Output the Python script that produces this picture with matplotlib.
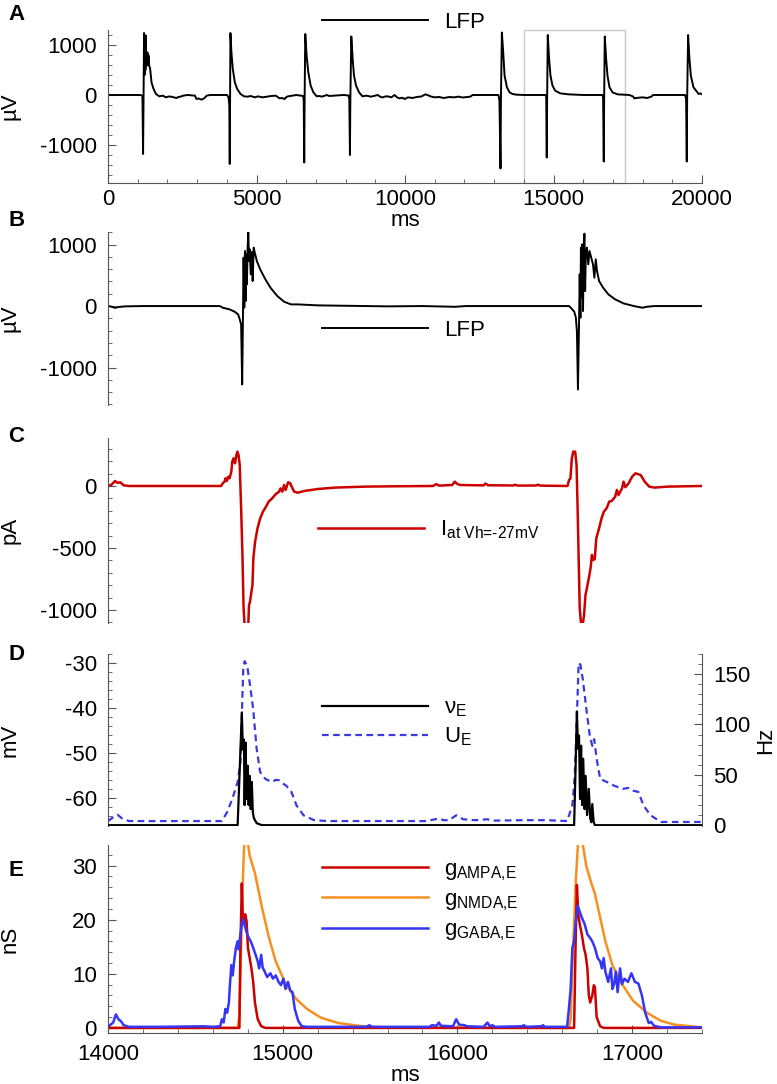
import matplotlib
matplotlib.use("Agg")
import matplotlib.pyplot as plt
from matplotlib.ticker import MultipleLocator

FONT = "Liberation Sans"
plt.rcParams['font.family'] = [FONT, 'DejaVu Sans']
plt.rcParams['axes.unicode_minus'] = False
plt.rcParams['mathtext.fontset'] = 'custom'
plt.rcParams['mathtext.rm'] = FONT
plt.rcParams['mathtext.it'] = FONT
plt.rcParams['mathtext.bf'] = FONT + ':bold'

# ---------------- data ----------------
# Panel A: LFP over 20 s
lfp_long_t = [0, 1100, 1160, 1181, 1195, 1215, 1232, 1249, 1260, 1272, 1290, 1306, 1318, 1329, 1345, 1363, 1386, 1420,
              1466, 1534, 1614, 1728, 1842, 1956, 2040, 2127, 2200, 2298, 2380, 2469, 2550, 2697, 2925, 2982, 3050,
              3153, 3250, 3324, 3438, 4008, 4060, 4085, 4099, 4110, 4122, 4156, 4202, 4270, 4350, 4464, 4580, 4700,
              4800, 4950, 5050, 5200, 5350, 5500, 5650, 5775, 5860, 5946, 6010, 6060, 6345, 6573, 6590, 6607, 6620,
              6642, 6687, 6744, 6824, 6915, 7029, 7120, 7200, 7300, 7371, 7450, 7599, 7800, 7941, 8100, 8125, 8146,
              8160, 8192, 8238, 8283, 8352, 8454, 8568, 8700, 8853, 8950, 9081, 9180, 9252, 9330, 9423, 9540, 9651,
              9740, 9822, 9910, 9993, 10100, 10250, 10400, 10550, 10683, 10800, 10854, 11000, 11150, 11300, 11500,
              11650, 11800, 11950, 12100, 12200, 12274, 13148, 13180, 13216, 13230, 13262, 13307, 13353, 13432,
              13523, 13620, 13750, 14000, 14739, 14755, 14773, 14785, 14807, 14852, 14898, 14966, 15057, 15227,
              15511, 16000, 16647, 16670, 16693, 16705, 16727, 16772, 16818, 16886, 16988, 17158, 17556, 17670,
              17726, 17850, 18010, 18150, 18294, 18351, 19430, 19465, 19487, 19500, 19532, 19578, 19624, 19714,
              19828, 19885, 19940, 20000]
lfp_long_v = [0, 0, -20, -1180, -200, 1240, 400, 990, 500, 1190, 600, 590, 800, 850, 600, 790, 590, 520,
              250, 120, 20, -27, -13, -47, -30, -33, -45, -60, -40, -27, -10, 0, -13, -80, -70,
              -93, -60, -13, 0, 0, -47, -213, -1380, -100, 1240, 850, 520, 253, 120, 20, -27, -33,
              -20, -47, -27, -47, -33, -20, -13, -67, -60, -80, -40, -27, 0, -20, -113, -1350, -100,
              1220, 790, 453, 187, 53, -27, -20, -33, -15, 0, -20, -13, -5, 0, -10, -80, -1200,
              -80, 1170, 720, 387, 187, 53, -27, -13, -33, -20, 0, -40, -47, -30, -27, -47, 0,
              -50, -67, -55, -80, -47, -60, -40, -30, 13, -10, -27, -47, -40, -60, -40,
              -47, -33, -50, -40, -33, 0, 0, -113, -1470, -100, 1250, 850, 387, 153,
              53, 20, 7, 0, 0, -50, -1250, -100, 1200, 720, 387, 187, 87, 33,
              13, 0, 0, -50, -1330, -80, 1170, 720, 387, 153, 53, 13, 0, -27,
              -67, -55, -47, -60, -33, 0, 0, -80, -1330, -80, 1200, 720, 387, 153,
              67, 20, 33, 13]

# Panel B: LFP zoom 14000-17400 ms
lfp_t = [14000, 14020, 14040, 14060, 14100, 14200, 14640, 14657, 14696, 14725, 14745, 14754, 14762, 14768, 14772,
         14776, 14780, 14784, 14788, 14791, 14795, 14799, 14803, 14807, 14811, 14817, 14823, 14828, 14834, 14840,
         14852, 14871, 14901, 14930, 14969, 15008, 15047, 15086, 15203, 15476, 15600, 15800, 15985, 16050, 16503,
         16639, 16649, 16669, 16678, 16684, 16690, 16696, 16700, 16704, 16707, 16711, 16715, 16719, 16723, 16727,
         16731, 16735, 16741, 16749, 16756, 16766, 16776, 16784, 16792, 16799, 16811, 16834, 16864, 16903, 16951,
         17010, 17059, 17088, 17127, 17400]
lfp_v = [0, -10, -30, -15, -5, 0, 0, -27, -54, -92, -136, -217, -299, -1276, -299,
         787, -27, 896, 81, 842, 353, 923, 1211, 733, 923, 516, 880, 407, 950, 869,
         733, 597, 434, 299, 163, 71, 27, 27, 11, 0, -5, 0, -12, 0, 0,
         0, -27, -92, -190, -407, -1358, -299, 516, -190, 950, 136, 1005, -81, 896, 1178,
         244, 842, 950, 679, 896, 787, 679, 461, 760, 570, 407, 299, 190, 109, 43,
         0, -27, -10, 0, 0]

# Panel C: current at Vh=-27 mV
cur_t = [14000, 14020, 14040, 14055, 14070, 14090, 14120, 14647, 14657, 14667, 14672, 14680, 14688, 14696, 14706,
         14711, 14719, 14727, 14735, 14741, 14747, 14754, 14762, 14770, 14776, 14782, 14803, 14807, 14813, 14821,
         14827, 14832, 14842, 14856, 14871, 14887, 14901, 14920, 14940, 14959, 14979, 14988, 14998, 15008, 15017,
         15031, 15043, 15051, 15066, 15086, 15125, 15203, 15300, 15476, 15600, 15860, 15880, 15895, 15970, 15985,
         16000, 16020, 16150, 16160, 16175, 16320, 16330, 16345, 16450, 16460, 16475, 16630, 16639, 16647, 16655,
         16663, 16674, 16682, 16688, 16694, 16700, 16707, 16717, 16725, 16733, 16741, 16752, 16762, 16770, 16776,
         16786, 16795, 16811, 16825, 16838, 16854, 16869, 16883, 16903, 16913, 16922, 16942, 16951, 16961, 16980,
         17000, 17019, 17049, 17072, 17098, 17127, 17205, 17400]
cur_v = [0, 10, 40, 25, 30, 5, 0, 0, 22, 35, 62, 40, 75, 62, 116,
         196, 223, 183, 250, 277, 250, 169, -180, -583, -987, -1120, -1120, -960, -933, -852,
         -798, -583, -449, -341, -261, -207, -175, -126, -99, -67, -46, -19, -46, 8, -32,
         30, 22, -5, -46, -54, -40, -24, -13, -5, -3, 0, 15, 3, 8, 35,
         15, 8, 5, 20, 6, 4, 10, 3, 4, 10, 3, 0, 48, 62, 223,
         277, 277, 169, -180, -583, -987, -1100, -1120, -1040, -879, -825, -745, -664, -556, -597,
         -590, -422, -341, -261, -207, -180, -126, -121, -86, -32, -73, -19, 35, -10, 22,
         75, 102, 89, 35, -5, -13, -5, 0]

# Panel D: mean potential U_E (mV) and rate nu_E (Hz)
ue_t = [14000, 14035, 14055, 14080, 14120, 14400, 14652, 14682, 14712, 14742, 14758, 14766, 14774, 14782, 14797,
        14811, 14831, 14851, 14871, 14901, 14940, 14960, 14980, 15000, 15020, 15050, 15079, 15119, 15179, 15258,
        15814, 15860, 15894, 15920, 15953, 15993, 16033, 16100, 16172, 16200, 16390, 16509, 16628, 16658, 16672,
        16684, 16694, 16704, 16718, 16738, 16758, 16772, 16783, 16797, 16817, 16857, 16897, 16946, 16980, 17006,
        17036, 17065, 17105, 17165, 17400]
ue_v = [-65.2, -64.2, -63.8, -64.6, -65.2, -65.2, -65.2, -63.2, -60.2, -56.5, -52.1, -41.7, -31.4, -29.5, -30.6,
        -34.3, -40.2, -49.1, -54.3, -55.8, -56.5, -56.0, -56.1, -56.8, -57.3, -58.7, -61.7, -63.9, -65.0, -65.2,
        -65.2, -64.9, -64.6, -65.0, -65.0, -63.9, -64.8, -65.0, -64.8, -65.1, -65.0, -65.0, -65.2, -61.7, -55.0,
        -41.7, -29.9, -30.3, -33.6, -40.2, -46.2, -48.4, -46.9, -51.3, -55.8, -56.5, -57.3, -58.0, -57.8, -58.4,
        -58.7, -61.7, -63.9, -65.4, -65.4]
nu_t = [14000, 14742, 14755, 14766, 14772, 14778, 14782, 14788, 14793, 14800, 14805, 14811, 14817, 14823, 14829,
        14835, 14851, 14881, 16668, 16676, 16684, 16690, 16696, 16702, 16708, 16714, 16720, 16728, 16734, 16742,
        16752, 16760, 16766, 16772, 16780, 16787, 17400]
nu_v = [0, 0, 60, 112, 75, 85, 20, 82, 26, 59, 20, 49, 16, 43, 13,
        7, 2, 0, 0, 55, 113, 76, 89, 26, 79, 20, 66, 16, 49, 10,
        36, 7, 3, 21, 3, 0, 0]

# Panel E: conductances (nS)
ampa_t = [14000, 14752, 14758, 14766, 14772, 14778, 14785, 14793, 14801, 14811, 14821, 14831, 14841, 14857, 14877,
          14901, 16668, 16676, 16684, 16692, 16700, 16712, 16724, 16734, 16744, 16752, 16760, 16772, 16781, 16787,
          16797, 16817, 16837, 17400]
ampa_v = [0, 0, 14.8, 26.7, 19.8, 19.2, 21.0, 19.8, 14.8, 12.9, 11.0, 8.5, 4.7, 1.6, 0.3,
          0, 0, 14.8, 26.4, 21.0, 19.2, 17.3, 14.8, 13.5, 11.0, 6.0, 4.7, 6.0, 7.9, 7.5,
          2.0, 0.3, 0, 0]
nmda_t = [14000, 14742, 14752, 14762, 14772, 14781, 14797, 14811, 14841, 14881, 14921, 14960, 15020, 15079, 15139,
          15218, 15318, 15457, 15616, 16638, 16648, 16662, 16678, 16692, 16712, 16738, 16767, 16787, 16817, 16847,
          16887, 16946, 17006, 17085, 17165, 17244, 17400]
nmda_v = [0, 0, 2.2, 14.8, 27.4, 35, 35, 31.8, 28.6, 22.3, 16.7, 12.3, 7.9, 5.3, 3.5,
          1.9, 0.9, 0.3, 0.05, 0, 1.6, 14.8, 27.4, 35, 35, 29.9, 26.7, 24.8, 20.4, 16.0,
          11.6, 7.9, 5.0, 2.8, 1.3, 0.6, 0.1]
gaba_t = [14000, 14030, 14045, 14060, 14075, 14090, 14120, 14300, 14550, 14600, 14642, 14652, 14662, 14672, 14682,
          14692, 14698, 14706, 14714, 14722, 14732, 14742, 14748, 14758, 14766, 14774, 14781, 14791, 14805, 14817,
          14831, 14845, 14857, 14865, 14877, 14885, 14897, 14911, 14930, 14944, 14960, 14976, 14990, 15004, 15016,
          15030, 15044, 15056, 15069, 15089, 15109, 15139, 15480, 15496, 15510, 15840, 15854, 15880, 15894, 15905,
          15975, 15993, 16010, 16040, 16055, 16150, 16172, 16185, 16200, 16215, 16370, 16380, 16395, 16480, 16490,
          16500, 16628, 16638, 16648, 16658, 16668, 16678, 16688, 16698, 16712, 16728, 16744, 16758, 16772, 16787,
          16803, 16817, 16827, 16837, 16847, 16863, 16879, 16887, 16897, 16907, 16917, 16931, 16942, 16956, 16976,
          16996, 17016, 17036, 17056, 17075, 17095, 17109, 17125, 17165, 17400]
gaba_v = [0.2, 1.0, 2.5, 1.6, 1.2, 0.5, 0.2, 0.2, 0.3, 0.2, 0.3, 1.6, 1.0, 3.5, 2.8,
          4.7, 8.0, 11.6, 9.7, 12.3, 14.8, 16.0, 14.5, 17.3, 19.2, 20.1, 19.2, 17.9, 16.7, 16.0,
          14.8, 13.5, 12.3, 11.0, 13.5, 11.2, 10.4, 9.4, 10.1, 9.1, 9.7, 8.5, 7.9, 9.1, 7.2,
          8.5, 6.9, 6.6, 3.5, 1.3, 0.3, 0.2, 0.2, 0.5, 0.2, 0.2, 0.5, 0.4, 1.0, 0.4,
          0.3, 1.6, 0.6, 0.5, 0.3, 0.2, 1.0, 0.3, 0.5, 0.2, 0.3, 0.5, 0.2, 0.3, 0.5,
          0.2, 0.2, 3.5, 7.2, 14.8, 16.0, 19.8, 22.6, 21.7, 20.4, 19.2, 17.3, 16.7, 16.0, 14.8,
          12.9, 12.3, 11.0, 12.9, 10.4, 8.5, 11.0, 7.2, 8.1, 10.4, 6.6, 11.0, 8.1, 9.1, 8.5,
          10.1, 8.5, 8.2, 6.0, 2.8, 0.9, 1.1, 0.4, 0.1, 0.1]

# ---------------- styling ----------------
W, H = 777, 1084
fig = plt.figure(figsize=(W / 100, H / 100), dpi=100)
SPC = '#555555'
FS = 16
L, R = 108, 702


def make_ax(top, bottom):
    return fig.add_axes([L / W, 1 - bottom / H, (R - L) / W, (bottom - top) / H])


def style(ax, bottom=False, xpad=6):
    for s in ['top', 'right', 'bottom', 'left']:
        ax.spines[s].set_visible(False)
    ax.spines['left'].set_visible(True)
    ax.spines['left'].set_color(SPC)
    ax.tick_params(axis='y', which='both', direction='in', color=SPC, labelsize=FS, pad=8)
    ax.tick_params(axis='y', which='major', length=6)
    ax.tick_params(axis='y', which='minor', length=3)
    if bottom:
        ax.spines['bottom'].set_visible(True)
        ax.spines['bottom'].set_color(SPC)
        ax.tick_params(axis='x', which='both', direction='in', color=SPC, labelsize=FS, pad=xpad)
        ax.tick_params(axis='x', which='major', length=6)
        ax.tick_params(axis='x', which='minor', length=3)
    else:
        ax.tick_params(axis='x', which='both', bottom=False, labelbottom=False)


def leg(ax, handles, labels, x, y, spacing=0.25):
    return ax.legend(handles, labels, loc='center left', bbox_to_anchor=(x, y), frameon=False,
                     fontsize=FS, handlelength=4.75, handletextpad=0.75, borderpad=0, borderaxespad=0,
                     labelspacing=spacing)


def ylab(ax, text, x=-0.148):
    ax.set_ylabel(text, fontsize=FS)
    ax.yaxis.set_label_coords(x, 0.5)


def sub(base, s):
    return base + r'$_{\text{' + s + '}}$'


# ---- A ----
axA = make_ax(30, 183)
style(axA, bottom=True, xpad=4)
lA, = axA.plot(lfp_long_t, lfp_long_v, color='black', lw=1.4)
axA.set_xlim(0, 20000)
axA.set_ylim(-1760, 1300)
axA.set_xticks([0, 5000, 10000, 15000, 20000])
axA.xaxis.set_minor_locator(MultipleLocator(1000))
axA.set_yticks([-1000, 0, 1000])
axA.yaxis.set_minor_locator(MultipleLocator(200))
axA.add_patch(plt.Rectangle((14000, -1760), 3400, 3060, fill=False, ec='#c8c8c8', lw=1.0, clip_on=False))
axA.set_xlabel('ms', fontsize=FS, labelpad=0)
ylab(axA, 'µV')
leg(axA, [lA], ['LFP'], (322 - L) / (R - L), (183 - 22) / 153)

# ---- B ----
axB = make_ax(232, 405)
style(axB)
lB, = axB.plot(lfp_t, lfp_v, color='black', lw=1.4)
axB.set_xlim(14000, 17400)
axB.set_ylim(-1610, 1205)
axB.set_yticks([-1000, 0, 1000])
axB.yaxis.set_minor_locator(MultipleLocator(200))
ylab(axB, 'µV')
leg(axB, [lB], ['LFP'], (322 - L) / (R - L), (405 - 330) / 173)

# ---- C ----
axC = make_ax(438, 623)
style(axC)
lC, = axC.plot(cur_t, cur_v, color='#cc0000', lw=1.8)
axC.set_xlim(14000, 17400)
axC.set_ylim(-1105, 387)
axC.set_yticks([-1000, -500, 0])
axC.yaxis.set_minor_locator(MultipleLocator(100))
ylab(axC, 'pA')
leg(axC, [lC], [sub('I', 'at Vh=-27mV')], (318 - L) / (R - L), (623 - 530) / 185)

# ---- D ----
axD = make_ax(654, 826)
style(axD)
axD2 = axD.twinx()
for s in ['top', 'left', 'bottom']:
    axD2.spines[s].set_visible(False)
axD2.spines['right'].set_color(SPC)
axD2.tick_params(axis='y', which='both', direction='in', color=SPC, labelsize=FS, pad=8)
axD2.tick_params(axis='y', which='major', length=6)
axD2.tick_params(axis='y', which='minor', length=3)
lU, = axD.plot(ue_t, ue_v, color='#3a3ae0', lw=1.6, ls=(0, (3, 2)))
lN, = axD2.plot(nu_t, nu_v, color='black', lw=1.6)
axD.set_xlim(14000, 17400)
axD.set_ylim(-66.3, -27.9)
axD2.set_ylim(-0.8, 170)
axD.set_yticks([-60, -50, -40, -30])
axD.yaxis.set_minor_locator(MultipleLocator(2))
axD2.set_yticks([0, 50, 100, 150])
axD2.yaxis.set_minor_locator(MultipleLocator(10))
ylab(axD, 'mV')
axD2.set_ylabel('Hz', fontsize=FS)
axD2.yaxis.set_label_coords(1.089, 0.5)
leg(axD2, [lN, lU], [r'$\mathrm{\nu}_{\text{E}}$', sub('U', 'E')],
    (322 - L) / (R - L), (826 - 723) / 172, spacing=0.3)

# ---- E ----
axE = make_ax(845, 1033)
style(axE, bottom=True, xpad=8)
lNM, = axE.plot(nmda_t, nmda_v, color='#f7901e', lw=1.8)
lAM, = axE.plot(ampa_t, ampa_v, color='#cc0000', lw=1.8)
lGA, = axE.plot(gaba_t, gaba_v, color='#3535f5', lw=1.8)
axE.set_xlim(14000, 17400)
axE.set_ylim(-0.94, 33.8)
axE.set_xticks([14000, 15000, 16000, 17000])
axE.xaxis.set_minor_locator(MultipleLocator(200))
axE.set_yticks([0, 10, 20, 30])
axE.yaxis.set_minor_locator(MultipleLocator(2))
axE.set_xlabel('ms', fontsize=FS, labelpad=0)
ylab(axE, 'nS')
leg(axE, [lAM, lNM, lGA], [sub('g', 'AMPA,E'), sub('g', 'NMDA,E'), sub('g', 'GABA,E')],
    (322 - L) / (R - L), (1033 - 901) / 188, spacing=0.3)

# panel letters
for letter, y in zip('ABCDE', [15, 221, 437, 655, 870]):
    fig.text(8 / W, 1 - y / H, letter, fontsize=FS, fontweight='bold', va='center', ha='left')

fig.savefig('out.png', dpi=100)
